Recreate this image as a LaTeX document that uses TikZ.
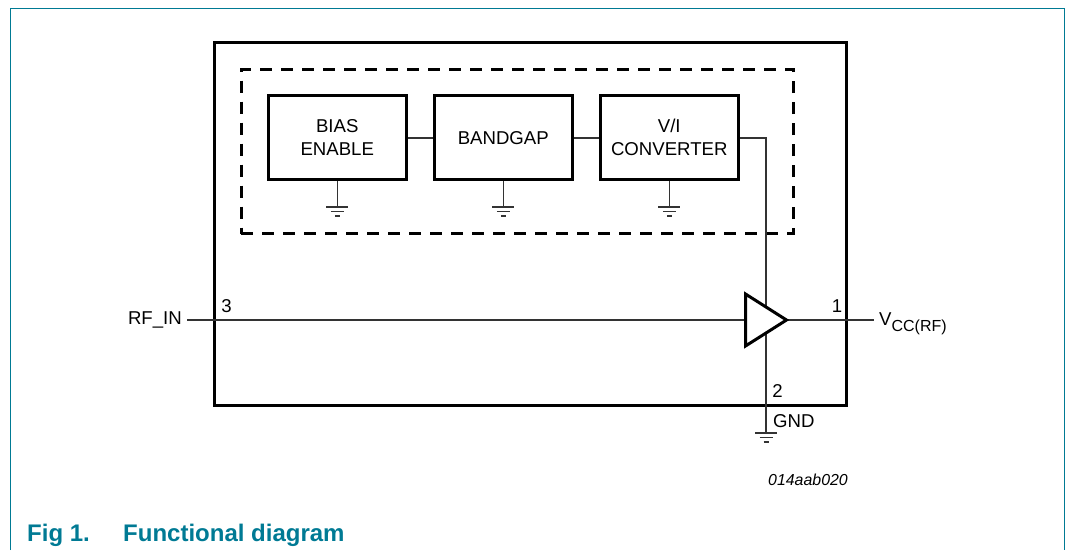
\documentclass[tikz,border=0pt]{standalone}
\usepackage{fontspec}
\setmainfont{Liberation Sans}
\usepackage{tikz}
\usetikzlibrary{shapes.geometric}
\definecolor{figteal}{HTML}{007A94}

\begin{document}
\begin{tikzpicture}[x=1pt,y=-1pt,font=\fontsize{18.6}{23}\selectfont]
    \tikzstyle{wire}=[draw=black!80,line width=1.5pt]
    \tikzstyle{block}=[draw=black,line width=3pt,fill=white,minimum width=138.5pt,minimum height=84pt,inner sep=0pt,align=center]
    \tikzstyle{amp}=[isosceles triangle,isosceles triangle stretches,draw=black,line width=3pt,fill=white,minimum width=52pt,minimum height=41pt,inner sep=0pt,anchor=west]
    \tikzstyle{annot}=[inner sep=0pt]
    \tikzstyle{caption}=[annot,text=figteal,anchor=base west,font=\fontsize{24}{28}\selectfont\bfseries]
    \useasboundingbox (0,0) rectangle (1066,550);

    % Page frame, open at the bottom
    \draw[figteal,line width=1.3pt] (10.5,550) -- (10.5,8.5) -- (1064.5,8.5) -- (1064.5,550);

    % Package outline and dashed group
    \node[draw=black,line width=3pt,minimum width=632.5pt,minimum height=363.5pt,inner sep=0pt] (package) at (530.25,223.75) {};
    \node[draw=black,line width=3pt,dash pattern=on 12pt off 9pt,minimum width=552.5pt,minimum height=164.5pt,inner sep=0pt] (group) at (517.25,151.25) {};

    % Draw the blocks
    \node[block] (B-1) at (337.25,137.75) {\raisebox{1pt}{BIAS}\\\raisebox{1pt}{ENABLE}};
    \node[block] (B-2) at (503.25,137.75) {BANDGAP};
    \node[block] (B-3) at (669.25,137.75) {\raisebox{1pt}{V/I}\\\raisebox{1pt}{CONVERTER}};

    % Grounds under the blocks and under pin 2
    \foreach \name / \x / \y in {G-1/337.25/207,G-2/503.25/207,G-3/669.25/207,G-4/766/433}
    {
        \coordinate (\name) at (\x,\y);
        \draw[wire] (\name) ++(-11,0) -- ++(22,0);
        \draw[wire] (\name) ++(-6.5,4.5) -- ++(13,0);
        \draw[wire] (\name) ++(-2.5,9) -- ++(5,0);
    }
    \foreach \name in {1,2,3}
        \path[wire] (B-\name) edge (G-\name);
    \path[wire] (B-1) edge (B-2);
    \path[wire] (B-2) edge (B-3);

    % Free ends outside the package
    \coordinate (rfin) at (187,320);
    \coordinate (vcc) at (874,320);
    \coordinate (knee) at (766,137.75);

    % Lines behind the amplifier
    \draw[wire] (B-3) -- (knee) -- (G-4);
    \draw[wire] (rfin) -- (vcc);
    \node[amp] (A) at (744,320) {};

    % Annotate the pins
    \node[annot,anchor=east] at (182,320) {RF\_IN};
    \node[annot] at (226.5,306) {3};
    \node[annot] at (837,306.5) {1};
    \node[annot] at (777.5,391) {2};
    \node[annot,anchor=west] at (773,421) {GND};
    \node[annot,anchor=base west] at (879,325.5) {V\raisebox{-5.5pt}{\fontsize{16}{20}\selectfont CC(RF)}};
    \node[annot,font=\fontsize{15.9}{18}\selectfont\itshape] at (808,480) {014aab020};

    % Caption
    \node[caption] at (27,541) {Fig 1.};
    \node[caption] at (123,541) {Functional diagram};
\end{tikzpicture}
\end{document}
